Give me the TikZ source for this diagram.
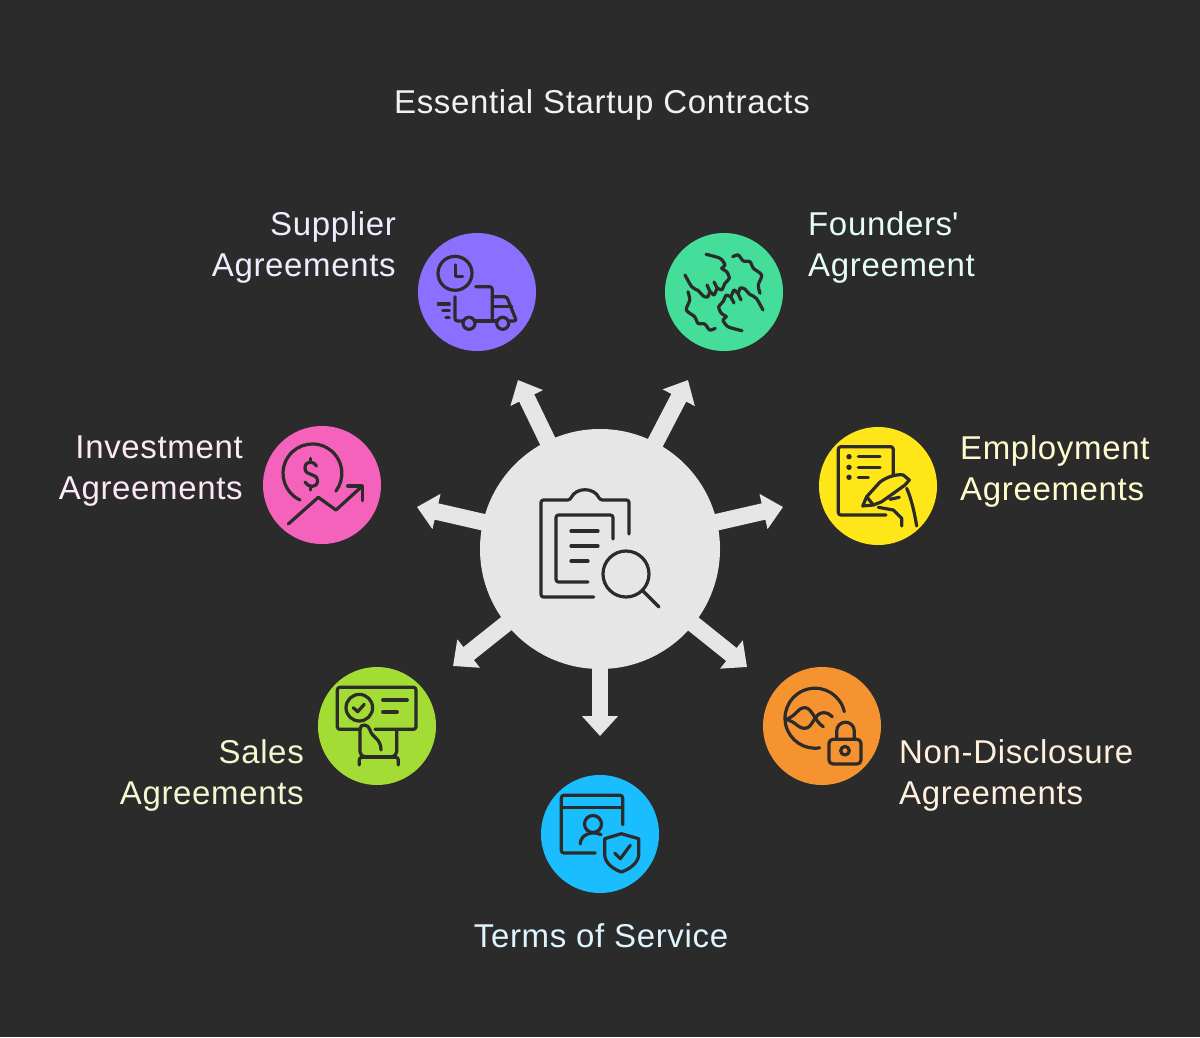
\documentclass[tikz,border=0pt]{standalone}
\usepackage{fontspec}
\setmainfont{Liberation Sans}[LetterSpace=2]
\usetikzlibrary{arrows.meta}
\definecolor{bgdark}{HTML}{2B2B2B}
\definecolor{hubgrey}{HTML}{E6E6E6}
\tikzset{
  spoke/.style={draw=hubgrey, line width=16.7pt, shorten <=-3pt, -{Triangle[length=20pt,width=35pt]}},
  badge/.style={circle, inner sep=0pt, minimum size=118pt},
  icon/.style={draw=bgdark, line width=3.2pt, line cap=round, line join=round, rounded corners=2.5pt},
  curvy/.style={draw=bgdark, line width=3.2pt, line cap=round, line join=round},
  lbl/.style={inner sep=0pt, font=\fontsize{33}{41}\selectfont},
}
\begin{document}
\begin{tikzpicture}[x=1pt,y=-1pt]
\useasboundingbox (0,0) rectangle (1200,1037);
\fill[bgdark] (0,0) rectangle (1200,1037);

\node[circle, inner sep=0pt, minimum size=240pt, fill=hubgrey] (hub) at (600,549) {};
\coordinate (tipsupplier) at (518,380);
\coordinate (tipfounders) at (688,380);
\coordinate (tipemploy) at (783,507);
\coordinate (tipnda) at (747,667);
\coordinate (tipterms) at (600,736);
\coordinate (tipsales) at (453,666);
\coordinate (tipinvest) at (417,507);
\foreach \tip in {tipsupplier,tipfounders,tipemploy,tipnda,tipterms,tipsales,tipinvest}
  \draw[spoke] (hub) -- (\tip);

\node[badge, fill={rgb,255:red,139;green,111;blue,255}] (supplier) at (477,292) {};
\node[badge, fill={rgb,255:red,68;green,221;blue,153}] (founders) at (724,292) {};
\node[badge, fill={rgb,255:red,255;green,230;blue,25}] (employ) at (878,486) {};
\node[badge, fill={rgb,255:red,245;green,147;blue,49}] (nda) at (822,726) {};
\node[badge, fill={rgb,255:red,26;green,190;blue,255}] (terms) at (600,834) {};
\node[badge, fill={rgb,255:red,163;green,220;blue,52}] (sales) at (377,726) {};
\node[badge, fill={rgb,255:red,245;green,98;blue,188}] (invest) at (322,485) {};

\node[lbl, text={rgb,255:red,242;green,242;blue,242}] (title) at (602,105) {Essential Startup Contracts};
\node[lbl, anchor=east, align=right, text={rgb,255:red,240;green,236;blue,255}] (suppliertxt) at (396,247.5) {Supplier\\Agreements};
\node[lbl, anchor=west, align=left, text={rgb,255:red,228;green,255;blue,242}] (founderstxt) at (808,247.5) {Founders\textquotesingle\\Agreement};
\node[lbl, anchor=west, align=left, text={rgb,255:red,255;green,251;blue,205}] (employtxt) at (960,471) {Employment\\Agreements};
\node[lbl, anchor=west, align=left, text={rgb,255:red,255;green,240;blue,222}] (ndatxt) at (899,775.5) {Non-Disclosure\\Agreements};
\node[lbl, text={rgb,255:red,222;green,245;blue,255}] (termstxt) at (601,936) {Terms of Service};
\node[lbl, anchor=east, align=right, text={rgb,255:red,240;green,250;blue,208}] (salestxt) at (304,775.5) {Sales\\Agreements};
\node[lbl, anchor=east, align=right, text={rgb,255:red,255;green,232;blue,246}] (investtxt) at (243,471) {Investment\\Agreements};

% clipboard and magnifier
\draw[icon] (593.7,597) -- (541,597) -- (541,500) -- (570,500) .. controls (576,487) and (594,487) .. (600,500) -- (629,500) -- (629,534);
\draw[icon] (613,539) -- (613,515) -- (556,515) -- (556,582) -- (588,582);
\draw[icon] (571,531) -- (598,531) (571,546) -- (598,546) (571,561) -- (588,561);
\draw[curvy] (626,574) circle (23);
\draw[curvy] (643,591) -- (659,607);

% truck
\draw[curvy] (455,273.3) circle (17);
\draw[curvy] (455.7,265) -- (455.7,276.7) -- (462.7,276.7);
\draw[icon] (475.7,286.7) -- (492.3,286.7) -- (492.3,321);
\draw[icon] (455,296.7) -- (455,321) -- (463,321);
\draw[curvy] (469,323.3) circle (6) (502.7,323.3) circle (6);
\draw[curvy] (475,321) -- (496.7,321);
\draw[icon] (492.3,296.7) -- (506.7,296.7) -- (516.5,321) -- (509.3,321);
\draw[curvy] (493.3,306.7) -- (511.7,306.7);
\draw[curvy] (438.3,304) -- (449.3,304) (442.7,310.7) -- (449.3,310.7) (446,317.3) -- (449.3,317.3);

% fists
\foreach \turn in {0,180}{
  \begin{scope}[rotate around={\turn:(724,292.5)}]
    \draw[curvy] plot[smooth, tension=0.45] coordinates {(685,275) (691.7,286.7) (698.3,290.7) (703.3,296) (707.7,297) (710,291.7) (714,295) (717.3,288.3) (721.7,290) (725,283.3) (729.3,278.3) (726.7,271.7) (721.7,268.3) (725,265) (720,258.3) (706,254.3)};
    \draw[curvy] (710,291.7) -- (707,285) (717.3,288.3) -- (714,282);
    \draw[curvy] plot[smooth, tension=0.45] coordinates {(732.7,256.7) (738.3,255) (743.3,261) (750,261.7) (753.3,268.3) (761.7,275) (758.3,285) (760,293.3)};
  \end{scope}
}

% dollar and trend
\draw[curvy] (300,500) arc[start angle=115,end angle=397,radius=29.4];
\draw[curvy] (316.5,466) .. controls (314,461) and (305,460) .. (305,468) .. controls (305,477) and (317.5,472) .. (317.5,481) .. controls (317.5,488) and (308,488) .. (305,482);
\draw[curvy] (310.5,458.3) -- (310.5,461.7) (310.5,486) -- (310.5,490);
\draw[curvy] (288.3,524) -- (318.3,497.3) -- (336,510) -- (362.3,486);
\draw[curvy] (347.7,486) -- (362.3,486) -- (362.3,500.7);

% sheet and pen
\draw[icon] (886,515) -- (838.3,515) -- (838.3,446.7) -- (893.3,446.7) -- (893.3,481);
\fill[bgdark] (849,456.7) circle (2.7) (849,467.3) circle (2.7) (849,477.3) circle (2.7);
\draw[curvy] (858.3,456.7) -- (880,456.7) (858.3,467.3) -- (880,467.3) (858.3,477.3) -- (868.3,477.3);
\draw[curvy, fill={rgb,255:red,255;green,230;blue,25}] (862.7,506) -- (866.7,496.7) -- (880,482) .. controls (888,476) and (898,474) .. (903.3,475) -- (909.3,480) -- (905,485) -- (881.7,501.7) -- (873.3,505) -- cycle;
\draw[curvy] (866.7,496.7) -- (873.3,505) (890,499.3) -- (899.3,497.3);
\draw[curvy] (878.3,507.3) -- (893.3,510) -- (901.7,518.3) -- (901.7,526);
\draw[curvy] (906.7,488.3) .. controls (911,498) and (914,510) .. (916.7,526);

% board and hand
\draw[icon] (360,729.3) -- (337.3,729.3) -- (337.3,687.3) -- (416,687.3) -- (416,729.3) -- (375,729.3);
\draw[curvy] (359.3,707.7) circle (13.3);
\draw[curvy] (353.3,707.7) -- (357.7,711.7) -- (364.3,704.3);
\draw[curvy] (382.7,700) -- (407.3,700) (382.7,712) -- (397.3,712);
\draw[icon, rounded corners=5pt] (396.7,730) -- (396.7,756.7) -- (360,756.7) -- (360,729);
\draw[curvy] (360,729) .. controls (360,723) and (369,724) .. (370,730) .. controls (372,738) and (381,738) .. (381,750);
\draw[icon] (359.3,765) -- (359.3,757.3) -- (398.3,757.3) -- (398.3,765);

% helix and lock
\draw[curvy] (844.3,711.7) arc[start angle=-12.5,end angle=-279,radius=30];
\draw[curvy] (785.7,719.3) .. controls (797,716) and (797,707.7) .. (805,707.7) .. controls (812,707.7) and (815,722) .. (823.3,726.7);
\draw[curvy] (785.7,719.3) .. controls (797,722) and (797,728.3) .. (805,728.3) .. controls (813,728.3) and (814,712.7) .. (823.3,712.7) .. controls (827,712.7) and (830,714) .. (832.3,716.7);
\draw[icon, rounded corners=4pt] (829,739.3) rectangle (861,764);
\draw[curvy] (836.7,738.3) -- (836.7,731) arc[start angle=180,end angle=360,radius=8.8] -- (854.3,739);
\draw[curvy] (845,750.7) circle (4.3);

% window and shield
\draw[icon] (595.3,853) -- (561.3,853) -- (561.3,795.3) -- (622.7,795.3) -- (622.7,824.7);
\draw[curvy] (561.3,807.3) -- (622.7,807.3);
\draw[curvy] (593,824) circle (8.5);
\draw[curvy] (580.3,844) .. controls (580,835) and (592,830) .. (601,834.7);
\draw[curvy] (621.3,833.7) -- (638.7,838.7) -- (638.7,855) .. controls (638,863) and (630,869) .. (621.3,872) .. controls (613,869) and (605,863) .. (604.7,855) -- (604.7,838.7) -- cycle;
\draw[curvy] (614.7,853) -- (620.3,858.7) -- (630.3,845.3);
\end{tikzpicture}
\end{document}
